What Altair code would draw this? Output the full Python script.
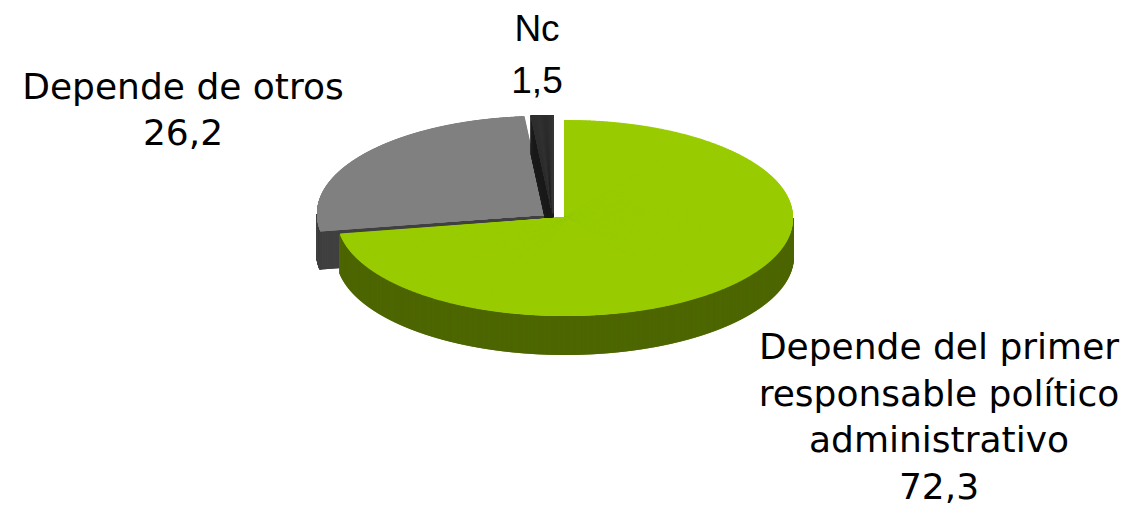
import altair as alt
import pandas as pd

# ---- data ----
categories = ["Depende del primer responsable político administrativo", "Depende de otros", "Nc"]
values = [72.3, 26.2, 1.5]
label_lines = [["Depende del primer", "responsable político", "administrativo"],
               ["Depende de otros"],
               ["Nc"]]

# ---- styles / layout ----
top_colors = ["#99CC00", "#808080", "#333333"]
side_colors = ["#4D6600", "#404040", "#1C1C1C"]
explode_dx = [0, -20, -12]
explode_dy = [0, -4, -5]
W, H = 1117, 490
CX, CY = 557, 210      # pie centre (plot px)
A, B = 228, 98         # ellipse radii (px)
DEPTH = 39             # 3D thickness (px)

df = pd.DataFrame({
    "cat": categories, "value": values, "k": list(range(len(values))),
    "dx": explode_dx, "dy": explode_dy, "top": top_colors, "side": side_colors,
})

xs = alt.Scale(domain=[0, W], nice=False, zero=False)
ys = alt.Scale(domain=[0, H], nice=False, zero=False, reverse=True)

base = (
    alt.Chart(df)
    .transform_joinaggregate(total="sum(value)")
    .transform_window(cum="sum(value)", sort=[alt.SortField("k")], frame=[None, 0])
    .transform_calculate(
        t0="2*PI*(datum.cum - datum.value)/datum.total",
        t1="2*PI*datum.cum/datum.total",
        cx=f"{CX} + datum.dx",
        cy=f"{CY} + datum.dy",
    )
)


def top_layer(k):
    return (
        base.transform_filter(alt.datum.k == k)
        .transform_calculate(s="sequence(0, 1.0005, 0.001)")
        .transform_flatten(["s"])
        .transform_calculate(t="datum.t0 + datum.s*(datum.t1 - datum.t0)")
        .transform_calculate(
            x=f"datum.cx + {A}*sin(datum.t)",
            y=f"datum.cy - {B}*cos(datum.t)",
        )
        .mark_rule(strokeWidth=2)
        .encode(
            x=alt.X("x:Q", scale=xs, axis=None),
            y=alt.Y("y:Q", scale=ys, axis=None),
            x2="cx:Q",
            y2="cy:Q",
            color=alt.Color("top:N", scale=None),
        )
    )


def rim_layer(k):
    return (
        base.transform_filter(alt.datum.k == k)
        .transform_calculate(s="sequence(0, 1.0005, 0.001)")
        .transform_flatten(["s"])
        .transform_calculate(t="datum.t0 + datum.s*(datum.t1 - datum.t0)")
        .transform_filter("cos(datum.t) < 0")
        .transform_calculate(
            x=f"datum.cx + {A}*sin(datum.t)",
            y=f"datum.cy - {B}*cos(datum.t)",
        )
        .transform_calculate(yb=f"datum.y + {DEPTH}")
        .mark_rule(strokeWidth=2)
        .encode(
            x=alt.X("x:Q", scale=xs, axis=None),
            y=alt.Y("y:Q", scale=ys, axis=None),
            y2="yb:Q",
            color=alt.Color("side:N", scale=None),
        )
    )


def face_layer(k):
    return (
        base.transform_filter(alt.datum.k == k)
        .transform_calculate(face="[0, 1]")
        .transform_flatten(["face"])
        .transform_calculate(te="datum.face == 0 ? datum.t0 : datum.t1")
        .transform_calculate(nrm="datum.face == 0 ? datum.te - PI/2 : datum.te + PI/2")
        .transform_filter("cos(datum.nrm) < -0.01")
        .transform_calculate(s="sequence(0, 1.0005, 0.004)")
        .transform_flatten(["s"])
        .transform_calculate(
            x=f"datum.cx + datum.s*{A}*sin(datum.te)",
            y=f"datum.cy - datum.s*{B}*cos(datum.te)",
        )
        .transform_calculate(yb=f"datum.y + {DEPTH}")
        .mark_rule(strokeWidth=2)
        .encode(
            x=alt.X("x:Q", scale=xs, axis=None),
            y=alt.Y("y:Q", scale=ys, axis=None),
            y2="yb:Q",
            color=alt.Color("side:N", scale=None),
        )
    )


def fmt(v):
    return f"{v:.1f}".replace(".", ",")


lbl_df = pd.DataFrame({
    "k": list(range(len(values))),
    "label": ["\n".join(lines + [fmt(v)]) for lines, v in zip(label_lines, values)],
})

# y = first line position
label_style = {
    0: dict(x=931, y=340, font="DejaVu Sans", size=36, lh=46.5),
    1: dict(x=175, y=80, font="DejaVu Sans", size=36, lh=46),
    2: dict(x=529, y=22, font="Liberation Sans", size=37, lh=52),
}


def text_layer(k):
    st = label_style[k]
    return (
        alt.Chart(lbl_df)
        .transform_filter(alt.datum.k == k)
        .mark_text(
            font=st["font"], fontSize=st["size"], lineHeight=st["lh"],
            lineBreak="\n", align="center", baseline="middle", color="#000000",
        )
        .encode(text="label:N", x=alt.value(st["x"]), y=alt.value(st["y"]))
    )


layers = []
for k in [1, 2, 0]:
    layers += [face_layer(k), rim_layer(k), top_layer(k)]
layers += [text_layer(k) for k in range(len(values))]

chart = (
    alt.layer(*layers)
    .properties(width=W, height=H, background="white",
                padding={"left": 0, "top": 0, "right": 0, "bottom": 8},
                autosize=alt.AutoSizeParams(type="none"))
    .configure_view(strokeWidth=0, stroke="transparent")
)

chart.save("out.html", embed_options={"renderer": "svg", "actions": False})
